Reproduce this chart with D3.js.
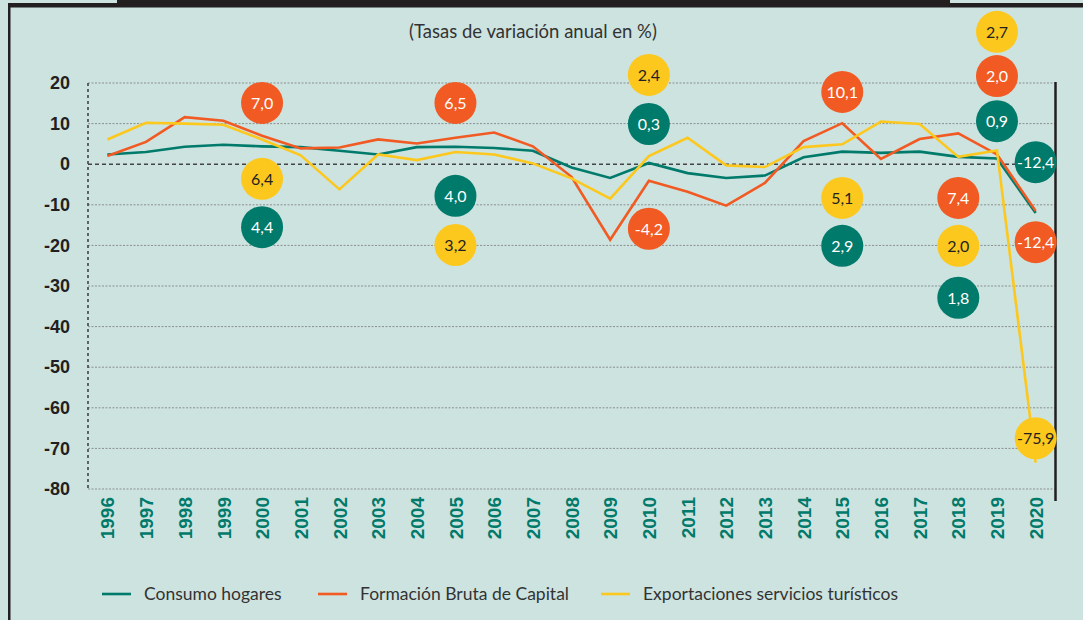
<!DOCTYPE html>
<html lang="es">
<head>
<meta charset="utf-8">
<script src="https://d3js.org/d3.v7.min.js"></script>
<style>
  body { margin: 0; background: #cde3e0; }
  svg { display: block; }
  .sub, .legend text, .badge text { font-family: 'Lato', sans-serif; }
</style>
</head>
<body>
<div id="chart"></div>
<script>
var width = 1083, height = 620;

// ---------- data ----------
var years = ["1996","1997","1998","1999","2000","2001","2002","2003","2004","2005","2006","2007","2008",
             "2009","2010","2011","2012","2013","2014","2015","2016","2017","2018","2019","2020"];
var consumo  = [2.4, 3.0, 4.3, 4.8, 4.4, 4.2, 3.3, 2.4, 4.2, 4.3, 4.0, 3.3, -0.8, -3.4, 0.3, -2.2, -3.4, -2.8, 1.7, 3.1, 2.8, 3.1, 1.8, 1.4, -12.0];
var capital  = [2.0, 5.5, 11.6, 10.7, 7.0, 3.9, 4.1, 6.1, 5.1, 6.5, 7.8, 4.4, -3.1, -18.6, -4.1, -6.8, -10.2, -4.6, 5.7, 10.1, 1.3, 6.2, 7.6, 2.4, -11.5];
var turismo  = [6.1, 10.2, 10.0, 9.7, 6.1, 2.2, -6.2, 2.4, 1.0, 3.0, 2.4, 0.2, -3.5, -8.5, 2.0, 6.5, -0.3, -0.7, 4.2, 4.9, 10.5, 9.9, 1.8, 3.4, -73.5];
var yTicks = [20, 10, 0, -10, -20, -30, -40, -50, -60, -70, -80];
var names  = ["Consumo hogares", "Formación Bruta de Capital", "Exportaciones servicios turísticos"];

// badge labels: year, text, vertical anchor (in % units)
var badgeConsumo = [["2000","4,4",-15.5],["2005","4,0",-7.8],["2010","0,3",9.9],["2015","2,9",-20.1],["2018","1,8",-32.9],["2019","0,9",10.6],["2020","-12,4",0.5]];
var badgeCapital = [["2000","7,0",15.1],["2005","6,5",15.1],["2010","-4,2",-15.9],["2015","10,1",17.8],["2018","7,4",-8.3],["2019","2,0",21.7],["2020","-12,4",-19.2]];
var badgeTurismo = [["2000","6,4",-3.6],["2005","3,2",-19.9],["2010","2,4",22.0],["2015","5,1",-8.3],["2018","2,0",-20.1],["2019","2,7",32.6],["2020","-75,9",-67.5]];

var colors = ["#007a6a", "#f15a22", "#fcc81e"];
var series = [consumo, capital, turismo];
var badges = [badgeConsumo, badgeCapital, badgeTurismo];

// ---------- scales ----------
var x = d3.scalePoint().domain(years).range([88, 1055]).padding(0.5);
var y = d3.scaleLinear().domain([-80, 20]).range([489, 83]);

var svg = d3.select("#chart").append("svg")
  .attr("width", width)
  .attr("height", height);

svg.append("rect").attr("width", width).attr("height", height).attr("fill", "#cde3e0");

// frame
svg.append("rect").attr("x", 8).attr("y", 3).attr("width", 1075).attr("height", 4.5).attr("fill", "#231f20");
svg.append("rect").attr("x", 117).attr("y", 0).attr("width", 833).attr("height", 7).attr("fill", "#231f20");
svg.append("rect").attr("x", 8).attr("y", 3).attr("width", 2.5).attr("height", 617).attr("fill", "#231f20");

// subtitle
svg.append("text").attr("class", "sub")
  .attr("x", 533).attr("y", 38)
  .attr("text-anchor", "middle")
  .attr("font-size", 18.5).attr("fill", "#333")
  .text("(Tasas de variación anual en %)");

// grid
svg.append("g").selectAll("line")
  .data(yTicks.filter(function(d) { return d !== 0; }))
  .enter().append("line")
  .attr("x1", 88).attr("x2", 1055)
  .attr("y1", function(d) { return y(d); }).attr("y2", function(d) { return y(d); })
  .attr("stroke", "#8a8f8e").attr("stroke-width", 1).attr("stroke-dasharray", "2,1.5");

svg.append("line")
  .attr("x1", 88).attr("x2", 1055).attr("y1", y(0)).attr("y2", y(0))
  .attr("stroke", "#444").attr("stroke-width", 1.6).attr("stroke-dasharray", "4,3");

svg.append("line")
  .attr("x1", 88).attr("x2", 88).attr("y1", y(20)).attr("y2", y(-80))
  .attr("stroke", "#444").attr("stroke-width", 1.6).attr("stroke-dasharray", "3,3");

svg.append("line")
  .attr("x1", 1055.5).attr("x2", 1055.5).attr("y1", y(20) - 1).attr("y2", 501)
  .attr("stroke", "#231f20").attr("stroke-width", 2.5);

// y labels (plain hyphen as in the original)
var yAxis = d3.axisLeft(y).tickValues(yTicks).tickSize(0).tickPadding(0)
  .tickFormat(function(d) { return String(d); });
var gy = svg.append("g").attr("transform", "translate(70,0)").call(yAxis);
gy.select(".domain").remove();
gy.selectAll("text")
  .attr("font-family", "'Liberation Sans', Arial, sans-serif")
  .attr("font-weight", "bold").attr("font-size", 18).attr("fill", "#231f20");

// x labels
var xAxis = d3.axisBottom(x).tickSize(0).tickPadding(0);
var gx = svg.append("g").attr("transform", "translate(0,497)").call(xAxis);
gx.select(".domain").remove();
gx.selectAll("text")
  .attr("font-family", "'Liberation Sans', Arial, sans-serif")
  .attr("font-weight", "bold").attr("font-size", 19).attr("fill", "#007a6a")
  .attr("text-anchor", "end")
  .attr("transform", "rotate(-90)")
  .attr("x", 0).attr("y", 0).attr("dy", "0.35em");

// lines
var line = d3.line()
  .x(function(d, i) { return x(years[i]); })
  .y(function(d) { return y(d); });

series.forEach(function(s, k) {
  svg.append("path")
    .datum(s)
    .attr("fill", "none")
    .attr("stroke", colors[k])
    .attr("stroke-width", 2.6)
    .attr("stroke-linejoin", "miter")
    .attr("d", line);
});

// badges
badges.forEach(function(list, k) {
  var g = svg.append("g").attr("class", "badge").selectAll("g")
    .data(list).enter().append("g")
    .attr("transform", function(d) { return "translate(" + x(d[0]) + "," + y(d[2]) + ")"; });
  g.append("circle").attr("r", 21).attr("fill", colors[k]);
  g.append("text")
    .attr("text-anchor", "middle").attr("dy", "0.36em")
    .attr("font-size", 16)
    .attr("fill", k === 2 ? "#231f20" : "#fff")
    .text(function(d) { return d[1]; });
});

// legend
var legX = [102, 318, 601];
var leg = svg.append("g").attr("class", "legend").selectAll("g")
  .data(names).enter().append("g")
  .attr("transform", function(d, i) { return "translate(" + legX[i] + ",594)"; });
leg.append("line").attr("x1", 0).attr("x2", 29)
  .attr("stroke", function(d, i) { return colors[i]; }).attr("stroke-width", 2.6);
leg.append("text").attr("x", 42).attr("dy", "0.35em")
  .attr("font-size", 17.5).attr("fill", "#333")
  .text(function(d) { return d; });
</script>
</body>
</html>
